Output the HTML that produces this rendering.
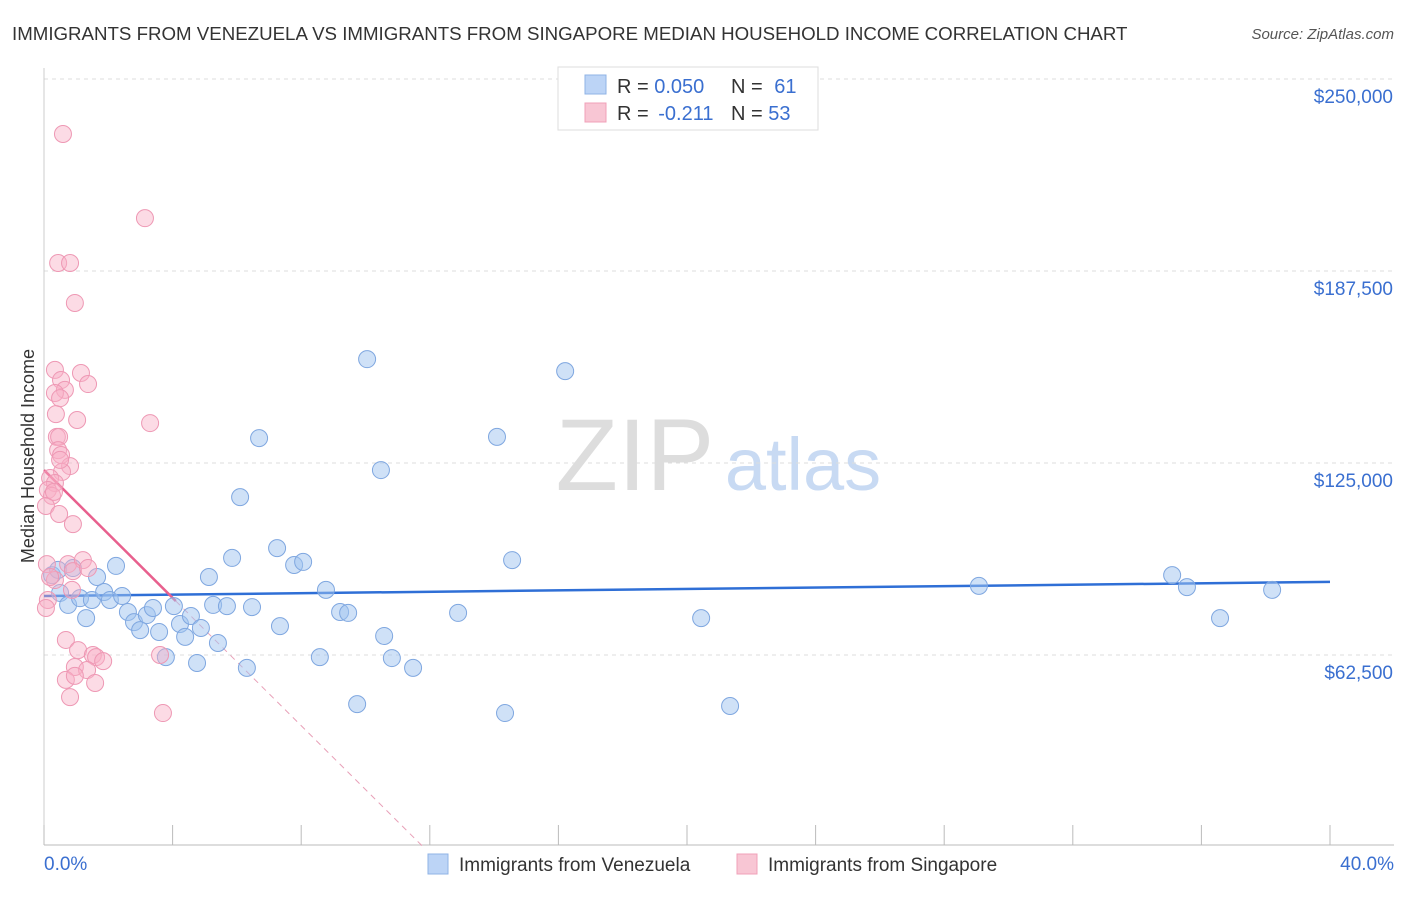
<!DOCTYPE html>
<html><head><meta charset="utf-8"><style>
body{margin:0;background:#fff;font-family:"Liberation Sans",sans-serif;}
svg text{font-family:"Liberation Sans",sans-serif;}
</style></head><body>
<svg id="chart" width="1406" height="892" xmlns="http://www.w3.org/2000/svg">
<text x="12" y="40" font-size="18.7" fill="#333">IMMIGRANTS FROM VENEZUELA VS IMMIGRANTS FROM SINGAPORE MEDIAN HOUSEHOLD INCOME CORRELATION CHART</text>
<text x="1394" y="39" font-size="15" fill="#555" text-anchor="end" font-style="italic">Source: ZipAtlas.com</text>
<g>
<text x="635" y="490" font-size="102" fill="#ddd" text-anchor="middle" font-family="Liberation Serif, serif">ZIP</text>
<text x="803" y="490" font-size="74" fill="#c8daf3" text-anchor="middle">atlas</text>
</g>
<text transform="translate(34,456) rotate(-90)" font-size="18" fill="#333" text-anchor="middle">Median Household Income</text>
<g id="grid"></g><g id="ticks"></g><g id="trend"></g><g id="pts"></g>
<g>
<rect x="558" y="67" width="260" height="63" fill="#fff" stroke="#ddd"/>
<rect x="585" y="75" width="21" height="19" fill="#bcd4f6" stroke="#8fb3e6"/>
<rect x="585" y="103" width="21" height="19" fill="#f8c6d4" stroke="#f0a0b8"/>
<text x="617" y="93" font-size="20" fill="#333">R = <tspan fill="#3a6fd0">0.050</tspan></text>
<text x="731" y="93" font-size="20" fill="#333">N = <tspan fill="#3a6fd0" dx="6">61</tspan></text>
<text x="617" y="120" font-size="20" fill="#333">R = <tspan fill="#3a6fd0" dx="4">-0.211</tspan></text>
<text x="731" y="120" font-size="20" fill="#333">N = <tspan fill="#3a6fd0">53</tspan></text>
</g>
<g>
<rect x="428" y="854" width="20" height="20" fill="#bcd4f6" stroke="#8fb3e6"/>
<text x="459" y="871" font-size="19" fill="#333">Immigrants from Venezuela</text>
<rect x="737" y="854" width="20" height="20" fill="#f8c6d4" stroke="#f0a0b8"/>
<text x="768" y="871" font-size="19" fill="#333">Immigrants from Singapore</text>
</g>
<text x="44" y="870" font-size="19" fill="#3a6fd0">0.0%</text>
<text x="1394" y="870" font-size="19" fill="#3a6fd0" text-anchor="end">40.0%</text>
</svg>
<script>
const yTicks=[62500,125000,187500,250000];
const yTickLabels=["$62,500","$125,000","$187,500","$250,000"];
const xTicks=[0,4,8,12,16,20,24,28,32,36,40];
const venX=[0.25,0.44,0.5,0.75,0.9,1.12,1.31,1.49,1.65,1.87,2.05,2.24,2.43,2.61,2.8,2.99,3.2,3.39,3.58,3.79,4.04,4.23,4.39,4.57,4.76,4.88,5.13,5.26,5.41,5.69,5.85,6.1,6.31,6.47,6.69,7.34,7.25,7.78,8.06,8.58,8.77,9.21,9.46,9.74,10.05,10.48,10.58,10.82,11.48,12.88,14.09,14.34,14.56,16.21,20.44,21.34,29.08,35.09,35.55,36.58,38.2];
const venY=[88.5,90.2,82.7,78.8,90.8,81.0,74.5,80.4,87.9,83.0,80.4,91.5,81.7,76.5,73.2,70.6,75.5,77.8,70.0,61.8,78.4,72.6,68.4,75.2,59.9,71.3,87.9,78.8,66.4,78.4,94.1,113.9,58.3,78.1,133.1,71.9,97.3,91.8,92.8,61.8,83.7,76.5,76.2,46.5,158.8,122.7,68.7,61.5,58.3,76.2,133.5,43.6,93.4,154.9,74.5,45.9,85.0,88.5,84.6,74.5,83.7];
const sinX=[0.59,3.14,0.44,0.81,0.96,0.34,1.15,0.53,1.37,0.65,0.34,0.5,0.37,1.03,3.3,0.4,0.47,0.44,0.53,0.81,0.56,0.19,0.34,0.12,0.25,0.06,0.47,0.9,0.09,0.75,1.21,0.9,1.37,0.34,0.87,0.12,0.06,0.68,1.06,1.52,1.62,1.84,0.96,1.34,3.61,0.68,0.96,1.59,0.81,3.7,0.19,0.5,0.31];
const sinY=[232.1,204.7,190.1,190.1,177.1,155.3,154.3,152.0,150.7,148.8,147.8,146.1,140.9,139.0,138.0,133.5,133.5,129.2,127.6,124.0,122.1,120.1,118.5,116.2,114.3,111.0,108.4,105.1,92.1,92.1,93.4,89.8,90.8,86.9,83.7,80.4,77.8,67.4,64.1,62.5,61.8,60.5,58.6,57.6,62.5,54.4,55.7,53.4,48.8,43.6,87.9,126.0,115.6];
const venTrend=[81.7,86.3];
const sinTrend=[122.7,-10.4];
const sinSolidEnd=4.1;
const X=v=>44+v/40*1286, Y=v=>847-v/62.5*192;
const NS="http://www.w3.org/2000/svg";
function mk(t,a,p){const e=document.createElementNS(NS,t);for(const k in a)e.setAttribute(k,a[k]);p.appendChild(e);return e;}
const grid=document.getElementById('grid'),ticks=document.getElementById('ticks');
yTicks.forEach((t,i)=>{const y=Y(t/1000);
const l=mk('line',{x1:44,x2:1394,y1:y,y2:y,stroke:'#ddd','stroke-dasharray':'4,4'},grid);


const tx=mk('text',{x:1393,y:y+24,'font-size':19,fill:'#3a6fd0','text-anchor':'end'},ticks);tx.textContent=yTickLabels[i];

});
const ax=mk('line',{x1:44,x2:1394,y1:845,y2:845,stroke:'#bbb'},ticks);


const yax=mk('line',{x1:44,x2:44,y1:68,y2:845,stroke:'#ccc'},ticks);


xTicks.forEach(t=>{const x=X(t);const l=mk('line',{x1:x,x2:x,y1:825,y2:845,stroke:'#bbb'},ticks);

});
const pts=document.getElementById('pts');
venX.forEach((v,i)=>{const c=mk('circle',{cx:X(v),cy:Y(venY[i]),r:8.5,fill:'rgba(160,195,240,0.5)',stroke:'#7fa7e0','stroke-width':1},pts);

});
sinX.forEach((v,i)=>{const c=mk('circle',{cx:X(v),cy:Y(sinY[i]),r:8.5,fill:'rgba(248,175,198,0.45)',stroke:'#ee98b4','stroke-width':1},pts);

});
const tr=document.getElementById('trend');
const bl=mk('line',{x1:X(0),y1:Y(venTrend[0]),x2:X(40),y2:Y(venTrend[1]),stroke:'#2f6fd6','stroke-width':2.5},tr);


const f=x=>sinTrend[0]+sinTrend[1]*x, zx=-sinTrend[0]/sinTrend[1];
const pl=mk('line',{x1:X(0),y1:Y(f(0)),x2:X(sinSolidEnd),y2:Y(f(sinSolidEnd)),stroke:'#e8608e','stroke-width':2.5},tr);


const pd=mk('line',{x1:X(sinSolidEnd),y1:Y(f(sinSolidEnd)),x2:X(zx),y2:Y(0),stroke:'#e8a0b8','stroke-width':1,'stroke-dasharray':'6,5'},tr);


</script>
</body></html>
